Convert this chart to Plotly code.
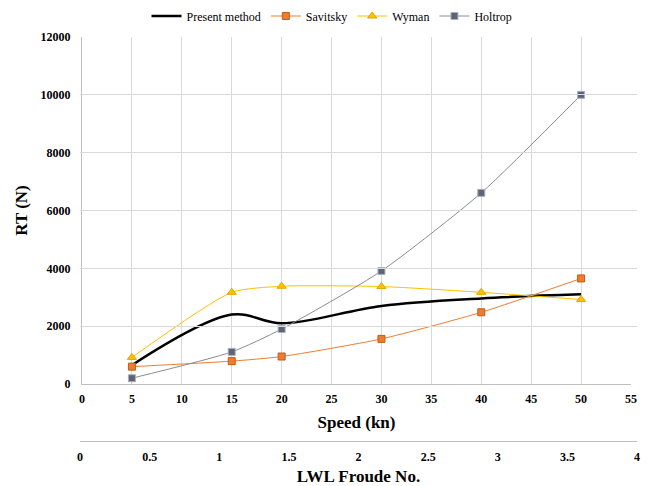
import plotly.graph_objects as go

speed = [5, 15, 20, 30, 40, 50]
present = [650, 2400, 2100, 2700, 2960, 3100]
savitsky = [600, 790, 950, 1560, 2480, 3650]
wyman = [920, 3170, 3380, 3370, 3170, 2920]
holtrop = [200, 1110, 1900, 3910, 6610, 10000]

froude_ticks = [0, 0.5, 1, 1.5, 2, 2.5, 3, 3.5, 4]

FONT = "Liberation Serif"

fig = go.Figure()
fig.add_trace(go.Scatter(x=[froude_ticks[0], froude_ticks[-1]], y=[None, None], xaxis="x2",
                         showlegend=False, hoverinfo="skip", mode="lines"))
fig.add_trace(go.Scatter(x=speed, y=present, name="Present method", mode="lines",
                         line=dict(color="black", width=2.5, shape="spline", smoothing=1)))
fig.add_trace(go.Scatter(x=speed, y=savitsky, name="Savitsky", mode="lines+markers",
                         line=dict(color="#ED7D31", width=1, shape="spline", smoothing=0.6),
                         marker=dict(symbol="square", size=7, color="#ED7D31",
                                     line=dict(color="#C55A11", width=1))))
fig.add_trace(go.Scatter(x=speed, y=wyman, name="Wyman", mode="lines+markers",
                         line=dict(color="#FFC000", width=1, shape="spline", smoothing=0.6),
                         marker=dict(symbol="triangle-up", size=8, color="#FFC000",
                                     line=dict(color="#E0A800", width=1))))
fig.add_trace(go.Scatter(x=speed, y=holtrop, name="Holtrop", mode="lines+markers",
                         line=dict(color="#8C8C8C", width=1, shape="spline", smoothing=0.6),
                         marker=dict(symbol="square", size=7, color="#5B6577",
                                     line=dict(color="#A9B0BC", width=1))))

L, R, T, B = 80, 24, 37, 45
W, H = 664, 486
pw = W - L - R
ph = H - T - B

fig.update_layout(
    width=W, height=H,
    margin=dict(l=L, r=R, t=T, b=B, autoexpand=False),
    paper_bgcolor="white", plot_bgcolor="rgba(0,0,0,0)",
    font=dict(family=FONT, color="black"),
    legend=dict(orientation="h", x=0.5, xanchor="center", xref="container",
                y=1 - 16 / H, yanchor="middle", yref="container",
                font=dict(size=12, family=FONT), itemwidth=30, bgcolor="rgba(0,0,0,0)",
                tracegroupgap=0),
    xaxis=dict(range=[0, 55], dtick=5, tick0=0,
               domain=[(82 - L) / pw, (631 - L) / pw],
               showgrid=True, gridcolor="#D9D9D9", gridwidth=1,
               showline=True, linecolor="#BFBFBF", zeroline=False,
               ticks="outside", ticklen=4, tickcolor="rgba(0,0,0,0)",
               tickfont=dict(size=12, family=FONT, weight="bold"),
               title=dict(text="Speed (kn)", font=dict(size=17, family=FONT, weight="bold"),
                          standoff=10)),
    yaxis=dict(range=[0, 12000], dtick=2000, tickformat="d",
               domain=[(H - B - 384) / ph, 1],
               showgrid=True, gridcolor="#D9D9D9", gridwidth=1,
               showline=True, linecolor="#BFBFBF", zeroline=False,
               ticks="outside", ticklen=8, tickcolor="rgba(0,0,0,0)",
               tickfont=dict(size=12, family=FONT, weight="bold"),
               title=dict(text="RT (N)", font=dict(size=17, family=FONT, weight="bold"),
                          standoff=8)),
    xaxis2=dict(range=[0, 4], tickvals=froude_ticks, anchor="free", position=0,
                domain=[0, (637 - L) / pw],
                showgrid=False, showline=True, linecolor="#BFBFBF", zeroline=False,
                ticks="outside", ticklen=5, tickcolor="rgba(0,0,0,0)",
                tickfont=dict(size=12, family=FONT, weight="bold"),
                title=dict(text="LWL Froude No.", font=dict(size=17, family=FONT, weight="bold"),
                           standoff=6)),
)

fig.write_html("out.html")
